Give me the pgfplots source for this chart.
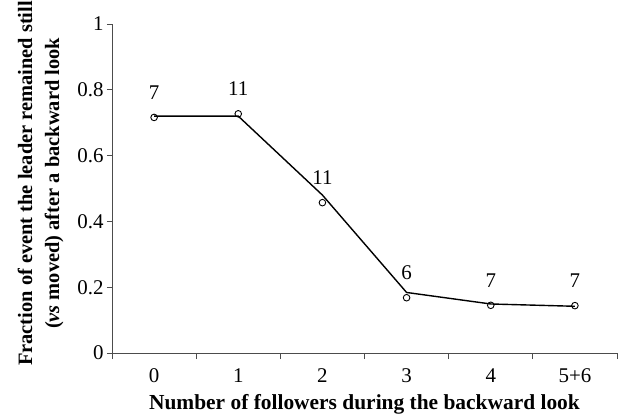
\documentclass[border=0pt]{standalone}
\usepackage{pgfplots}
\pgfplotsset{compat=1.18}
\usepackage{fontspec}
\setmainfont{Liberation Serif}
\begin{document}
\begin{tikzpicture}
\begin{axis}[
  scale only axis, width=505bp, height=329bp,
  xmin=-0.5, xmax=5.5, ymin=0, ymax=1,
  axis x line*=bottom, axis y line*=left,
  axis line style={black!70, line width=0.8bp},
  xtick={0,...,5}, xticklabels={0,1,2,3,4,5+6},
  minor xtick={-0.5,0.5,...,5.5},
  major x tick style={draw=none},
  minor tick length=6bp,
  ytick={0,0.2,0.4,0.6,0.8,1},
  yticklabels={0,0.2,0.4,0.6,0.8,1},
  tick align=outside, major tick length=5bp,
  every tick/.style={black!70, line width=0.8bp},
  ticklabel style={font=\fontsize{21}{24}\selectfont},
  xticklabel style={yshift=-7bp},
  /pgf/number format/assume math mode=true,
  xlabel={Number of followers during the backward look},
  xlabel style={font=\fontsize{21.5}{24}\selectfont\bfseries, yshift=-5bp},
  ylabel={Fraction of event the leader remained still\\(\textit{vs} moved) after a backward look},
  ylabel style={align=center, font=\fontsize{20.5}{27}\selectfont\bfseries, yshift=7bp, xshift=5bp},
  clip=false,
]
\addplot[black, line width=1.4bp, no markers] coordinates {
  (0,0.720) (1,0.720) (2,0.480) (3,0.184) (4,0.149) (5,0.142)
};
\addplot[only marks, mark=o, mark size=3.3bp, mark options={fill=white, draw=black, line width=0.9bp},
  point meta=explicit symbolic,
  nodes near coords,
  every node near coord/.append style={anchor=center, yshift=25bp, text=black, font=\fontsize{21}{24}\selectfont},
] coordinates {
  (0,0.716) [7]
  (1,0.727) [11]
  (2,0.457) [11]
  (3,0.168) [6]
  (4,0.145) [7]
  (5,0.144) [7]
};
\coordinate (ll) at (rel axis cs:0,0);
\coordinate (ur) at (rel axis cs:1,1);
\end{axis}
\pgfresetboundingbox
\path[use as bounding box] ([xshift=-112bp,yshift=-62bp]ll) rectangle ([xshift=20bp,yshift=24bp]ur);
\end{tikzpicture}
\end{document}
